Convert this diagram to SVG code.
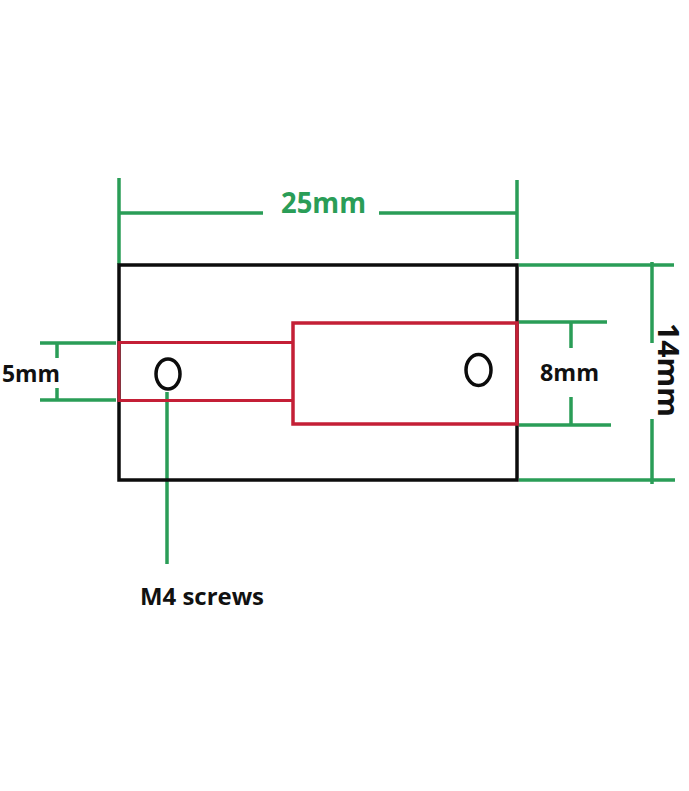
<svg xmlns="http://www.w3.org/2000/svg" width="689" height="791" viewBox="0 0 689 791">
<style>
.g{stroke:#2a9d57;stroke-width:3.5;fill:none}
.b{stroke:#0c0c0c;stroke-width:3.5;fill:none}
.r{stroke:#c41f36;stroke-width:3.500;fill:none}
.t{font-family:"Open Sans","Noto Sans",sans-serif;font-weight:700;fill:#111}
</style>
<rect width="689" height="791" fill="#fff"/>
<g id="connectors">
<path class="g" d="M119 178V264M119 213H263M517 180V259M379 213H517"/>
<path class="g" d="M519 265H674M519 480H675M652 262V343M652 419V484"/>
<path class="g" d="M519 322H607M519 425H611M571 322V348M571 397V425"/>
<path class="g" d="M40 343H116M40 400H116M57 343V358M57 388V400"/>
<path class="g" d="M167 392V564"/>
</g>
<g id="plate"><rect class="b" x="119" y="265" width="398" height="215"/></g>
<g id="slot-narrow"><path class="r" d="M293 342.500H119V400.500H293" style="stroke-width:3"/></g>
<g id="slot-wide"><rect class="r" x="293" y="323" width="224" height="101"/></g>
<g id="hole-left"><ellipse class="b" cx="168" cy="374" rx="12" ry="15"/></g>
<g id="hole-right"><ellipse class="b" cx="478.500" cy="370" rx="12.500" ry="15.500"/></g>
<g id="label-25mm"><text class="t" x="281" y="213" font-size="29" textLength="85" lengthAdjust="spacingAndGlyphs" style="fill:#2a9d57">25mm</text></g>
<g id="label-5mm"><text class="t" x="2" y="382" font-size="24" textLength="58" lengthAdjust="spacingAndGlyphs">5mm</text></g>
<g id="label-8mm"><text class="t" x="540" y="381" font-size="24" textLength="59" lengthAdjust="spacingAndGlyphs">8mm</text></g>
<g id="label-14mm"><text class="t" transform="translate(658 323) rotate(90)" font-size="29" textLength="94" lengthAdjust="spacingAndGlyphs">14mm</text></g>
<g id="label-m4"><text class="t" x="140" y="605" font-size="24" textLength="124" lengthAdjust="spacingAndGlyphs">M4 screws</text></g>
</svg>
